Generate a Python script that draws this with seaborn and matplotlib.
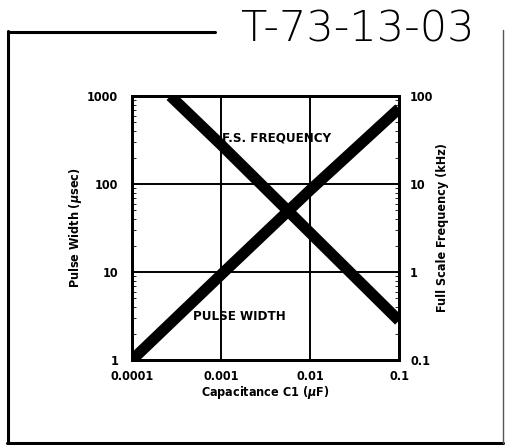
import numpy as np
import pandas as pd
import seaborn as sns
import matplotlib
matplotlib.use('Agg')
import matplotlib.pyplot as plt
from matplotlib.lines import Line2D
from matplotlib.ticker import LogLocator, FixedLocator, FixedFormatter, NullFormatter

# values
cap_pw = [0.0001, 0.001, 0.01, 0.1]
pulse_width = [1.0, 9.3, 85.0, 720.0]
cap_fs = [0.00027, 0.001, 0.01, 0.1]
fs_freq = [100.0, 28.0, 2.8, 0.28]

x_ticks = [0.0001, 0.001, 0.01, 0.1]
x_labels = ['0.0001', '0.001', '0.01', '0.1']
yl_ticks = [1, 10, 100, 1000]
yl_labels = ['1', '10', '100', '1000']
yr_ticks = [0.1, 1, 10, 100]
yr_labels = ['0.1', '1', '10', '100']

sns.set_style('white')
plt.rcParams['font.family'] = ['DejaVu Sans']
plt.rcParams['font.stretch'] = 'condensed'
plt.rcParams['font.weight'] = 'bold'
plt.rcParams['text.color'] = 'black'
plt.rcParams['axes.labelcolor'] = 'black'
plt.rcParams['xtick.color'] = 'black'
plt.rcParams['ytick.color'] = 'black'

fig = plt.figure(figsize=(5.07, 4.45), dpi=100)
ax = fig.add_axes([132/507, 1-360/445, 267/507, 264/445])

pw_df = pd.DataFrame({'C': cap_pw, 'PW': pulse_width})
fs_df = pd.DataFrame({'C': cap_fs, 'FS': fs_freq})

sns.lineplot(data=pw_df, x='C', y='PW', ax=ax, color='black', lw=8,
             solid_capstyle='butt')
ax.set_xscale('log')
ax.set_yscale('log')
ax.set_xlim(0.0001, 0.1)
ax.set_ylim(1, 1000)

ax2 = ax.twinx()
sns.lineplot(data=fs_df, x='C', y='FS', ax=ax2, color='black', lw=8,
             solid_capstyle='butt')
ax2.set_yscale('log')
ax2.set_ylim(0.1, 100)
ax2.set_xlim(0.0001, 0.1)

ax.grid(True, which='major', color='black', lw=1.4)
ax.xaxis.set_major_locator(FixedLocator(x_ticks))
ax.xaxis.set_major_formatter(FixedFormatter(x_labels))
ax.yaxis.set_major_locator(FixedLocator(yl_ticks))
ax.yaxis.set_major_formatter(FixedFormatter(yl_labels))
ax2.yaxis.set_major_locator(FixedLocator(yr_ticks))
ax2.yaxis.set_major_formatter(FixedFormatter(yr_labels))
for a in (ax, ax2):
    a.xaxis.set_minor_locator(LogLocator(base=10, subs=np.arange(2, 10)))
    a.yaxis.set_minor_locator(LogLocator(base=10, subs=np.arange(2, 10)))
    a.xaxis.set_minor_formatter(NullFormatter())
    a.yaxis.set_minor_formatter(NullFormatter())
    a.tick_params(which='major', length=0, labelsize=9)
    a.tick_params(which='minor', direction='in', length=3, width=0.6, color='black')
    for s in a.spines.values():
        s.set_color('black')
        s.set_linewidth(2)
ax.tick_params(axis='x', pad=7)
ax.tick_params(axis='y', pad=10)
ax2.tick_params(axis='y', pad=8)

ax.set_xlabel('Capacitance C1 ($\\mu$F)', fontsize=9, fontweight='bold', labelpad=1)
ax.set_ylabel('Pulse Width ($\\mu$sec)', fontsize=9, fontweight='bold', labelpad=2)
ax2.set_ylabel('Full Scale Frequency (kHz)', fontsize=9, fontweight='bold', labelpad=2)

fig.text(277/507, 1-138/445, 'F.S. FREQUENCY', ha='center', va='center',
         fontsize=9.5, fontweight='bold')
fig.text(239/507, 1-317/445, 'PULSE WIDTH', ha='center', va='center',
         fontsize=9.5, fontweight='bold')

# handwritten document number
fig.text(358/507, 1-29/445, 'T-73-13-03', ha='center', va='center',
         fontsize=31, fontweight='light', fontstretch='normal', color='black')

# scanned page frame
def fline(x0, y0, x1, y1, lw=2.2, c='black'):
    fig.add_artist(Line2D([x0/507, x1/507], [1-y0/445, 1-y1/445], color=c, lw=lw,
                          transform=fig.transFigure))

fline(8, 32, 215, 32)
fline(8, 31, 8, 443)
fline(7, 443, 503, 443)
fline(503, 30, 503, 443, lw=1, c='#555555')

fig.savefig('out.png', dpi=100, facecolor='white')
